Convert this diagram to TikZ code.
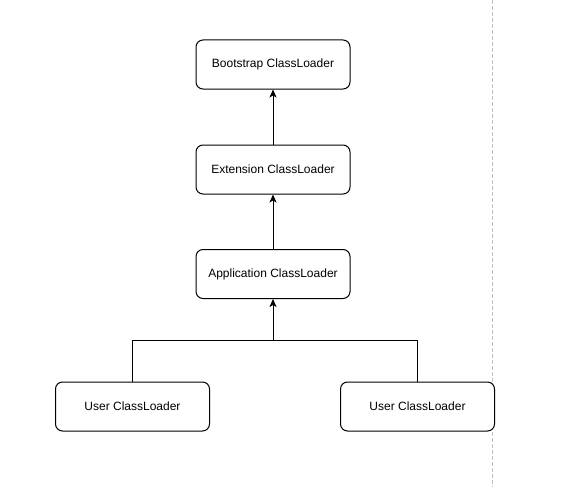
\documentclass[tikz,border=0pt]{standalone}
\usepackage{fontspec}
\setmainfont{Liberation Sans}
\usetikzlibrary{arrows.meta}
\begin{document}
\begin{tikzpicture}[x=1pt,y=-1pt,
  box/.style={draw=black,fill=white,rounded corners=7pt,line width=1pt,minimum width=154pt,minimum height=49pt,inner sep=0pt,font=\fontsize{12}{14}\selectfont},
  conn/.style={line width=1pt,-{Stealth[length=8pt,width=7pt,inset=2pt]}},
  plain/.style={line width=1pt}]
\useasboundingbox (0,0) rectangle (561,487);
\fill[white] (0,0) rectangle (561,487);
\coordinate (dtop) at (492,0);
\coordinate (dbot) at (492,487);
\draw[gray!50,line width=1pt,dash pattern=on 4pt off 2pt] (dtop) -- (dbot);
\node[box] (boot) at (273,64.5) {Bootstrap ClassLoader};
\node[box] (ext) at (273,169.5) {Extension ClassLoader};
\node[box] (app) at (273,274) {Application ClassLoader};
\node[box] (u1) at (132.5,406.5) {User ClassLoader};
\node[box] (u2) at (417.5,406.5) {User ClassLoader};
\coordinate (j) at (273,340);
\draw[conn] (ext.north) -- (boot.south);
\draw[conn] (app.north) -- (ext.south);
\draw[plain] (u1.north) |- (j);
\draw[plain] (u2.north) |- (j);
\draw[conn] (j) -- (app.south);
\end{tikzpicture}
\end{document}
